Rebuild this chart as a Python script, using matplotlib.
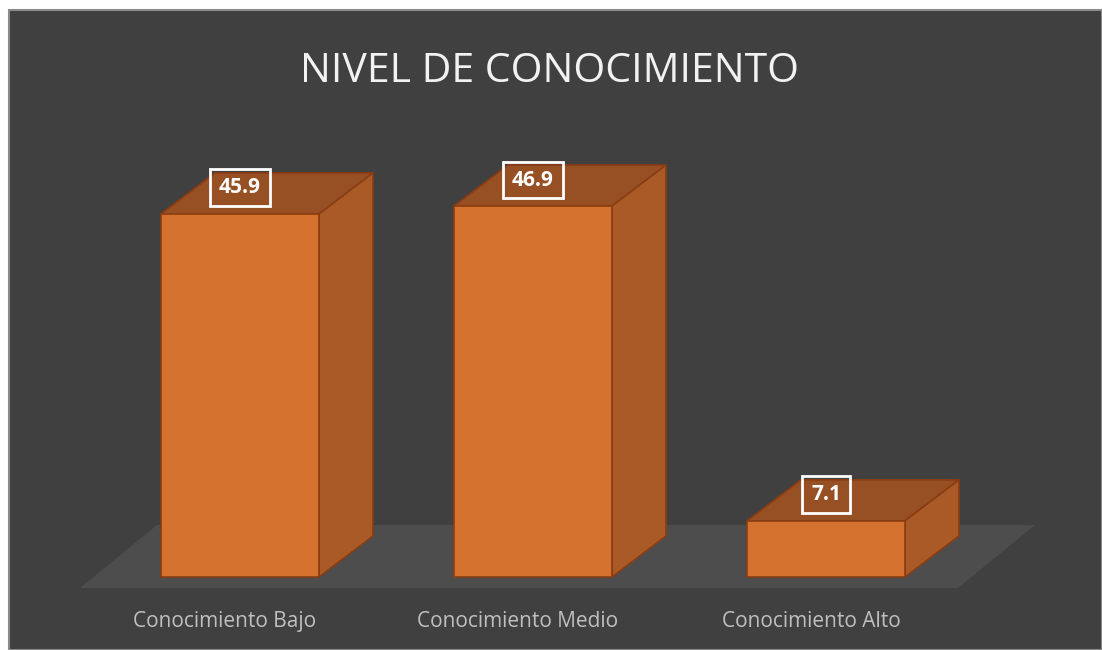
import matplotlib
matplotlib.use("Agg")
import matplotlib.pyplot as plt
from matplotlib.patches import Polygon, Rectangle

categories = ["Conocimiento Bajo", "Conocimiento Medio", "Conocimiento Alto"]
values = [45.9, 46.9, 7.1]
title = "NIVEL DE CONOCIMIENTO"

W, H = 1102, 650
fig = plt.figure(figsize=(W / 100, H / 100), dpi=100, facecolor="white")

# chart area background
fig.add_artist(Rectangle((9 / W, 0), 1 - 9 / W, (H - 10) / H, transform=fig.transFigure,
                         facecolor="#404040", edgecolor="#8a8a8a", lw=1.5, zorder=0))

ax = fig.add_axes([0, 0, 1, 1])
ax.set_facecolor("none")
ax.axis("off")

px_per_unit_y = 7.91
px_per_unit_x = 293.0
base_px = 73.0
ax.set_ylim(-base_px / px_per_unit_y, (H - base_px) / px_per_unit_y)
ax.set_xlim(-240 / px_per_unit_x, (W - 240) / px_per_unit_x)

bw = 158 / px_per_unit_x
dx = 54 / px_per_unit_x
dy = 41 / px_per_unit_y

front_c = "#d5722f"
top_c = "#975024"
side_c = "#a95a27"
edge_c = "#8a3c12"

# floor
fx0, fx1 = -160 / px_per_unit_x, 718 / px_per_unit_x
fy = -11 / px_per_unit_y
fdx, fdy = 77 / px_per_unit_x, 63 / px_per_unit_y
ax.add_patch(Polygon([(fx0, fy), (fx1, fy), (fx1 + fdx, fy + fdy), (fx0 + fdx, fy + fdy)],
                     closed=True, facecolor="#4e4d4e", edgecolor="none", zorder=1))

xs = list(range(len(values)))
ax.bar(xs, values, width=bw, color=front_c, edgecolor=edge_c, linewidth=1.2, zorder=3)
for i, v in zip(xs, values):
    x0, x1 = i - bw / 2, i + bw / 2
    ax.add_patch(Polygon([(x0, v), (x1, v), (x1 + dx, v + dy), (x0 + dx, v + dy)],
                         closed=True, facecolor=top_c, edgecolor=edge_c, lw=1.2, zorder=2))
    ax.add_patch(Polygon([(x1, 0), (x1, v), (x1 + dx, v + dy), (x1 + dx, dy)],
                         closed=True, facecolor=side_c, edgecolor=edge_c, lw=1.2, zorder=2))
    ax.text(i, v + 26 / px_per_unit_y, f"{v:.1f}", ha="center", va="center",
            fontsize=15, fontweight="bold", color="white", family="Open Sans", zorder=5,
            bbox=dict(boxstyle="square,pad=0.45", facecolor="none", edgecolor="white",
                      lw=2, mutation_aspect=0.85))
    ax.text(i - 15 / px_per_unit_x, -50 / px_per_unit_y, categories[i], ha="center",
            va="baseline", fontsize=15, color="#bfbfbf", family="Open Sans", zorder=5)

fig.text(549 / W, (H - 82) / H, title, ha="center", va="baseline", fontsize=29.5,
         color="#f2f2f2", family="Open Sans")

fig.savefig("out.png", dpi=100, facecolor="white")
